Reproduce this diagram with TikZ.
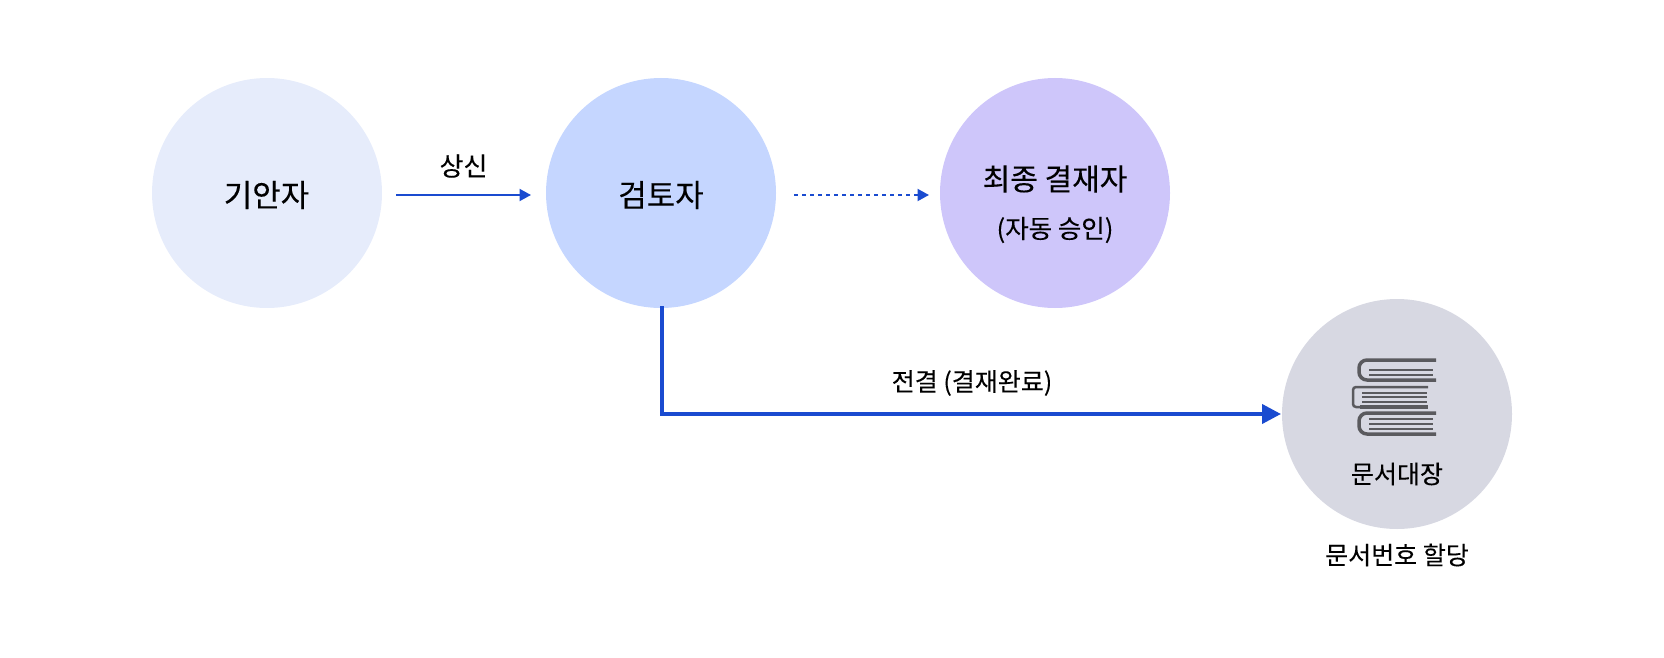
\documentclass[tikz,border=0pt]{standalone}
\usepackage{fontspec}
\setmainfont[FakeBold=0.2]{Noto Sans CJK KR}
\usetikzlibrary{arrows.meta}
\definecolor{linkblue}{HTML}{1A4BD0}
\definecolor{bookgray}{HTML}{5A5A5E}
\definecolor{writerfill}{HTML}{E6ECFB}
\definecolor{reviewerfill}{HTML}{C5D6FF}
\definecolor{approverfill}{HTML}{CEC6FA}
\definecolor{ledgerfill}{HTML}{D7D8E2}
\tikzset{person/.style={circle,minimum size=230pt,inner sep=0pt,text=black,align=center}}
\tikzset{bigtext/.style={font=\fontsize{31}{38}\selectfont}}
\tikzset{midtext/.style={font=\fontsize{25}{32}\selectfont}}
\tikzset{flow/.style={draw=linkblue,line width=2pt,-{Triangle[length=11.5pt,width=12pt]}}}
\tikzset{mainflow/.style={draw=linkblue,line width=4pt,-{Triangle[length=19pt,width=19pt]}}}
\tikzset{leaf/.style={draw=bookgray,line width=1.6pt}}
\tikzset{cover/.style={draw=bookgray,line width=3.5pt}}
\begin{document}
\begin{tikzpicture}[x=1pt,y=-1pt]
				      \useasboundingbox (0,0) rectangle (1664,658);
				      % draw the circles
				      \node[person,fill=writerfill] (writer) at (267,193) {};
				      \node[person,fill=reviewerfill] (reviewer) at (661,193) {};
				      \node[person,fill=approverfill] (approver) at (1055,193) {};
				      \node[person,fill=ledgerfill] (ledger) at (1397,414) {};
				      % draw the texts in the circles
				      \node[bigtext] (writername) at (266.5,195) {기안자};
				      \node[bigtext] (reviewername) at (661,195) {검토자};
				      \node[bigtext,font=\fontsize{30}{38}\selectfont] (approvername) at (1055,179) {최종 결재자};
				      \node[font=\fontsize{25.5}{30}\selectfont] (approvernote) at (1055,230) {(자동 승인)};
				      \node[midtext] (ledgername) at (1397,474) {문서대장};
				      \node[midtext] (ledgernote) at (1397,555) {문서번호 할당};
				      % draw the arrows
				      \coordinate (a1) at (396,195);
				      \coordinate (a2) at (531,195);
				      \coordinate (b1) at (794,195);
				      \coordinate (b2) at (929,195);
				      \coordinate (c1) at (661.5,306);
				      \coordinate (c2) at (1281,414);
				      \draw[flow] (a1) -- (a2);
				      \draw[flow,dash pattern=on 4pt off 4pt] (b1) -- (b2);
				      \draw[mainflow] (c1) |- (c2);
				      % draw the labels
				      \node[midtext,font=\fontsize{26}{32}\selectfont] (uplabel) at (463.5,166) {상신};
				      \node[midtext] (donelabel) at (972,383) {전결 (결재완료)};
				      % draw the books
				      \draw[cover,rounded corners=8pt] (1436,360) -- (1359,360) -- (1359,380) -- (1436,380);
				      \draw[cover,rounded corners=8pt] (1436,413) -- (1359,413) -- (1359,434) -- (1436,434);
				      \draw[cover,line width=2.5pt,rounded corners=3pt] (1428,387) -- (1353,387) -- (1353,407) -- (1360,407);
				      \draw[cover] (1360,407) -- (1428,407);
				      \foreach \y in {370,375}
				      \draw[leaf] (1369,\y) -- (1433,\y);
				      \foreach \y in {393,397,402}
				      \draw[leaf] (1362,\y) -- (1427,\y);
				      \foreach \y in {419,424,429}
				      \draw[leaf] (1369,\y) -- (1433,\y);
			      \end{tikzpicture}
\end{document}
